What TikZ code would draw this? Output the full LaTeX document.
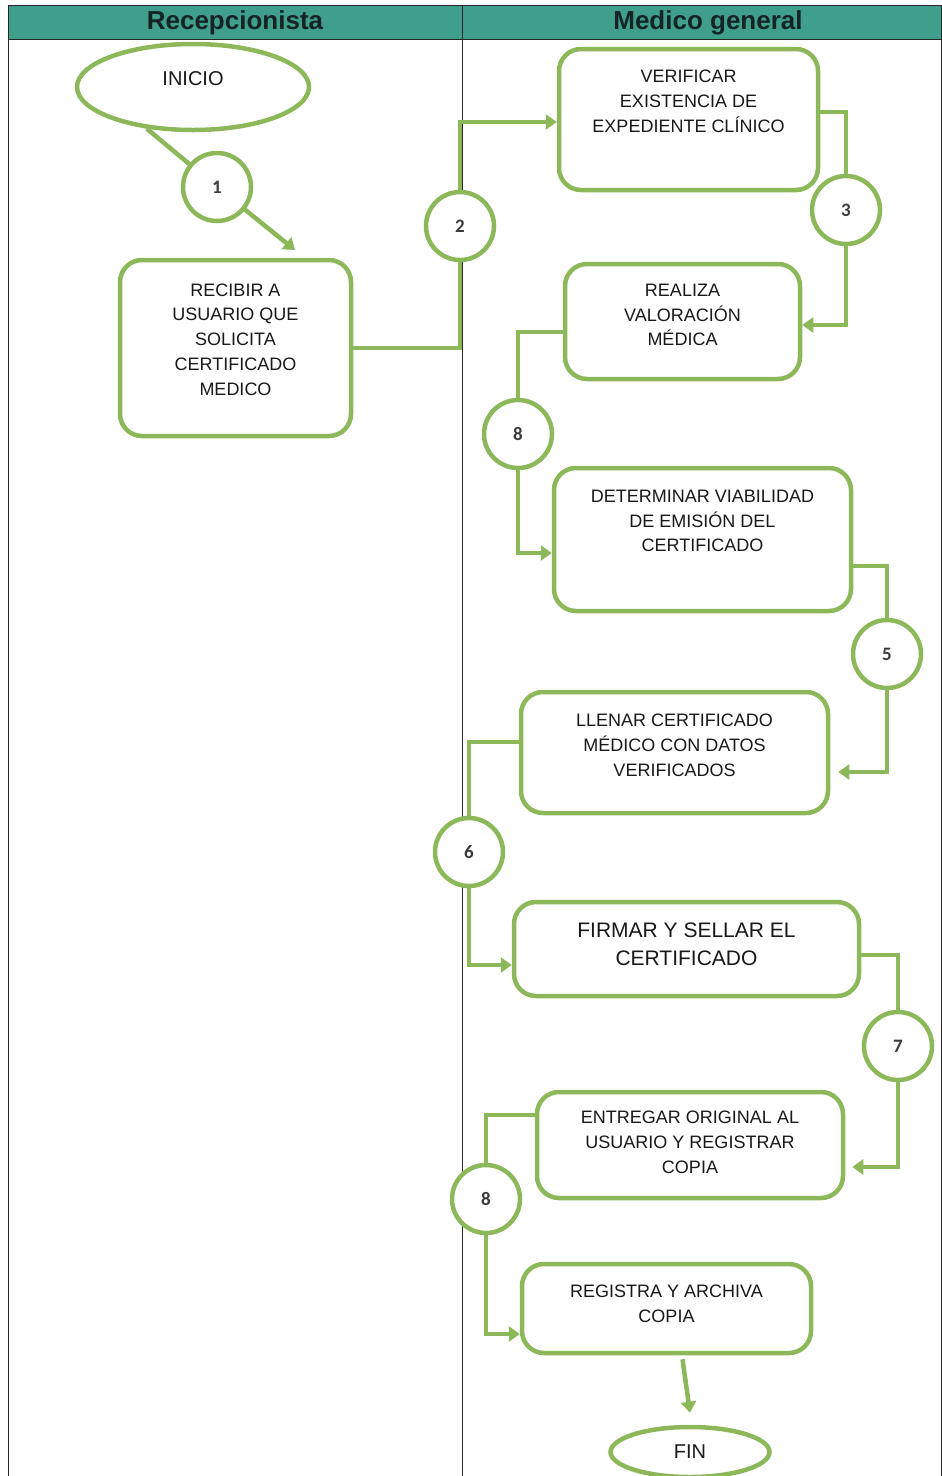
\documentclass[tikz,border=0pt]{standalone}
\usepackage{fontspec}
\setmainfont{Liberation Sans}
\newfontfamily\numfont{Carlito}
\usetikzlibrary{arrows.meta,shapes.geometric}
\definecolor{lgreen}{RGB}{141,184,90}
\definecolor{hdr}{RGB}{64,158,140}
\definecolor{txtc}{RGB}{25,25,25}
\definecolor{hdrtxt}{RGB}{20,35,35}
\begin{document}
\begin{tikzpicture}[x=1pt,y=-1pt,
  box/.style={draw=lgreen, line width=4.5pt, rounded corners=22pt, fill=white, inner sep=0pt},
  txt/.style={align=center, font=\fontsize{18}{24.8}\selectfont, text=txtc, inner sep=0pt},
  bigtxt/.style={align=center, font=\fontsize{21}{28}\selectfont, text=txtc, inner sep=0pt},
  num/.style={circle, draw=lgreen, line width=4.5pt, fill=white, minimum size=68pt, inner sep=0pt, font=\numfont\bfseries\fontsize{19}{20}\selectfont, text=txtc!85},
  conn/.style={draw=lgreen, line width=4.5pt},
  arr/.style={conn, -{Triangle[width=15pt,length=11pt]}},
  oval/.style={ellipse, draw=lgreen, line width=4.5pt, fill=white, inner sep=0pt, font=\fontsize{20}{22}\selectfont, text=txtc},
  lane/.style={draw=black!85, line width=0.9pt},
  hdrtext/.style={font=\bfseries\fontsize{26}{26}\selectfont, text=hdrtxt}]
\useasboundingbox (0,0) rectangle (942,1476);
% header and lanes
\fill[hdr] (8,5) rectangle (942,39);
\draw[lane] (8,5) -- (942,5);
\draw[lane] (8,39) -- (942,39);
\draw[lane] (8,5) -- (8,1476);
\draw[lane] (462,5) -- (462,1476);
\draw[lane] (941,5) -- (941,1476);
\node[hdrtext] (h1) at (235,23) {Recepcionista};
\node[hdrtext] (h2) at (708,23) {Medico general};

% nodes
\node[oval, minimum width=232pt, minimum height=86pt] (inicio) at (193,87) {\raisebox{17pt}{INICIO}};
\node[box, minimum width=231pt, minimum height=176pt] (recibir) at (235.5,348) {};
\node[txt] (recibirt) at ([yshift=8.5pt]recibir.center) {RECIBIR A\\USUARIO QUE\\SOLICITA\\CERTIFICADO\\MEDICO};
\node[box, minimum width=259pt, minimum height=141pt] (verif) at (688.5,119.5) {};
\node[txt] (veriftt) at ([yshift=18.5pt]verif.center) {VERIFICAR\\EXISTENCIA DE\\EXPEDIENTE CLÍNICO};
\node[box, minimum width=235pt, minimum height=115pt] (realiza) at (682.5,321.5) {};
\node[txt] (realizat) at ([yshift=6.5pt]realiza.center) {REALIZA\\VALORACIÓN\\MÉDICA};
\node[box, minimum width=297pt, minimum height=143pt] (determ) at (702.5,539.5) {};
\node[txt] (determt) at ([yshift=18.5pt]determ.center) {DETERMINAR VIABILIDAD\\DE EMISIÓN DEL\\CERTIFICADO};
\node[box, minimum width=307pt, minimum height=121pt] (llenar) at (674.5,752.5) {};
\node[txt] (llenart) at ([yshift=7.5pt]llenar.center) {LLENAR CERTIFICADO\\MÉDICO CON DATOS\\VERIFICADOS};
\node[box, minimum width=345pt, minimum height=94pt] (firmar) at (686.5,949) {};
\node[bigtxt] (firmart) at ([yshift=5pt]firmar.center) {FIRMAR Y SELLAR EL\\CERTIFICADO};
\node[box, minimum width=306pt, minimum height=106pt] (entregar) at (690,1145) {};
\node[txt] (entregart) at ([yshift=2.5pt]entregar.center) {ENTREGAR ORIGINAL AL\\USUARIO Y REGISTRAR\\COPIA};
\node[box, minimum width=289pt, minimum height=89pt] (registra) at (666.5,1308.5) {};
\node[txt] (registrat) at ([yshift=5pt]registra.center) {REGISTRA Y ARCHIVA\\COPIA};
\node[oval, minimum width=159pt, minimum height=50pt] (fin) at (690,1452) {FIN};

\coordinate (a1) at (295,250);

% connectors (drawn before the numbered circles)
\draw[conn] (inicio.-138) -- (217,187);
\draw[arr] (217,187) -- (a1);
\draw[conn] (recibir.east) -| (460,226);
\draw[arr] (460,226) |- ([yshift=-2.5pt]verif.west);
\draw[conn] ([yshift=7.5pt]verif.east) -| (846,210);
\draw[arr] (846,210) |- ([yshift=-3.5pt]realiza.east);
\draw[conn] ([yshift=-10.5pt]realiza.west) -| (518,434);
\draw[arr] (518,434) |- ([yshift=-13.5pt]determ.west);
\draw[conn] ([yshift=-26.5pt]determ.east) -| (887,654);
\draw[arr, shorten >=8pt] (887,654) |- ([yshift=-19.5pt]llenar.east);
\draw[conn] ([yshift=10.5pt]llenar.west) -| (469,852);
\draw[arr] (469,852) |- ([yshift=-16pt]firmar.west);
\draw[conn] ([yshift=-6pt]firmar.east) -| (898,1046);
\draw[arr, shorten >=7pt] (898,1046) |- ([yshift=-22pt]entregar.east);
\draw[conn] ([yshift=30pt]entregar.west) -| (486,1199);
\draw[arr] (486,1199) |- ([yshift=-25.5pt]registra.west);
\draw[arr] ([xshift=16pt,yshift=-4pt]registra.south) -- ([yshift=12pt]fin.north);

% numbered circles on the connectors
\node[num] (c1) at (217,187) {1};
\node[num] (c2) at (460,226) {2};
\node[num] (c3) at (846,210) {3};
\node[num] (c8a) at (518,434) {8};
\node[num] (c5) at (887,654) {5};
\node[num] (c6) at (469,852) {6};
\node[num] (c7) at (898,1046) {7};
\node[num] (c8b) at (486,1199) {8};
\end{tikzpicture}
\end{document}
